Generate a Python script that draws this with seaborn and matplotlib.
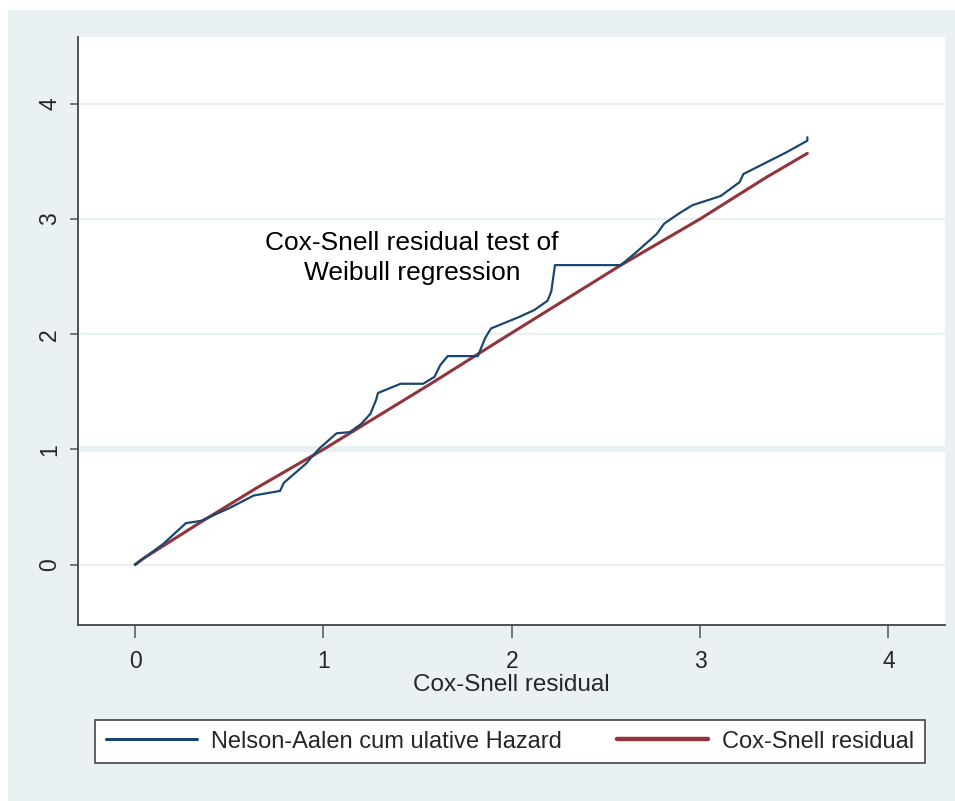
import matplotlib
matplotlib.use("Agg")
import matplotlib.pyplot as plt
from matplotlib import font_manager
from matplotlib.lines import Line2D
from matplotlib.patches import Rectangle
import pandas as pd
import seaborn as sns

# Nelson-Aalen cumulative hazard vs Cox-Snell residual
na_x = [0.00, 0.15, 0.27, 0.35, 0.50, 0.63, 0.77, 0.79, 0.91, 0.93, 0.98, 1.07, 1.14,
        1.20, 1.25, 1.28, 1.29, 1.41, 1.53, 1.59, 1.62, 1.66, 1.82, 1.86, 1.89, 2.04,
        2.12, 2.19, 2.21, 2.23, 2.58, 2.66, 2.77, 2.81, 2.89, 2.96, 3.11, 3.21, 3.23,
        3.46, 3.57, 3.57]
na_y = [0.00, 0.18, 0.36, 0.38, 0.49, 0.60, 0.64, 0.71, 0.88, 0.92, 1.01, 1.14, 1.15,
        1.22, 1.31, 1.43, 1.49, 1.57, 1.57, 1.63, 1.73, 1.81, 1.81, 1.97, 2.05, 2.15,
        2.21, 2.29, 2.37, 2.60, 2.60, 2.71, 2.87, 2.96, 3.05, 3.12, 3.20, 3.32, 3.39,
        3.58, 3.68, 3.71]

# Cox-Snell residual reference line
cs_x = [0.00, 0.05, 0.35, 0.65, 1.00, 1.58, 1.94, 2.58, 3.00, 3.35, 3.57]
cs_y = [0.00, 0.06, 0.37, 0.67, 1.00, 1.58, 1.95, 2.60, 3.00, 3.36, 3.57]

x_ticks = [0, 1, 2, 3, 4]
y_ticks = [0, 1, 2, 3, 4]
series_labels = ["Nelson-Aalen cum ulative Hazard", "Cox-Snell residual"]
x_title = "Cox-Snell residual"
note = "Cox-Snell residual test of\nWeibull regression"

blue = "#1a476f"
red = "#90353b"
bg = "#e9f1f3"

sns.set_style("white")
installed = {f.name for f in font_manager.fontManager.ttflist}
if "Liberation Sans Narrow" in installed:
    narrow, narrow_size = "Liberation Sans Narrow", 21
else:
    narrow, narrow_size = "Liberation Sans", 17
plt.rcParams["font.family"] = ["Liberation Sans", "DejaVu Sans"]

na = pd.DataFrame({"x": na_x, "y": na_y})
cs = pd.DataFrame({"x": cs_x, "y": cs_y})

fig = plt.figure(figsize=(9.55, 8.01), dpi=100)
fig.patch.set_facecolor("white")
fig.patches.append(Rectangle((8 / 955, 0), 1, 1 - 10 / 801, transform=fig.transFigure,
                             facecolor=bg, edgecolor="none", zorder=-10))

ax = fig.add_axes([78 / 955, 176 / 801, 867 / 955, 588 / 801])
ax.set_facecolor("white")

sns.lineplot(data=cs, x="x", y="y", ax=ax, color=red, lw=2.2, sort=False,
             estimator=None, zorder=3)
sns.lineplot(data=na, x="x", y="y", ax=ax, color=blue, lw=1.6, sort=False,
             estimator=None, zorder=4)

ax.set_xlim(-0.303, 4.301)
ax.set_ylim(-0.524, 4.58)
ax.set_xticks(x_ticks)
ax.set_yticks(y_ticks)
ax.set_xticklabels([str(t) for t in x_ticks])
ax.set_yticklabels([str(t) for t in y_ticks])

ax.yaxis.grid(True, color=bg, lw=1.6)
ax.xaxis.grid(False)
for t, gl in zip(y_ticks, ax.get_ygridlines()):
    if t == 1:
        gl.set_linewidth(4.5)

for side in ["top", "right"]:
    ax.spines[side].set_visible(False)
for side in ["left", "bottom"]:
    ax.spines[side].set_color("#444444")
    ax.spines[side].set_linewidth(1.3)

ax.tick_params(axis="x", length=9, width=1.1, color="#555555", pad=9,
               labelsize=16.5, bottom=True)
ax.tick_params(axis="y", length=6, width=1.1, color="#555555", pad=6,
               labelsize=16.5, labelrotation=90, left=True)
for lab in ax.get_yticklabels():
    lab.set_verticalalignment("center")

ax.set_ylabel("")
ax.set_xlabel(x_title, fontsize=narrow_size + 0.5, family=[narrow, "DejaVu Sans"])
ax.xaxis.label.set_verticalalignment("center")
ax.xaxis.set_label_coords(0.5, -0.102)

ax.text(1.47, 2.66, note, ha="center", va="center", fontsize=19,
        linespacing=1.3, color="black")

handles = [Line2D([], [], color=blue, lw=2.2), Line2D([], [], color=red, lw=3.2)]
leg = fig.legend(handles, series_labels, loc="center", ncol=2, mode="expand",
                 bbox_to_anchor=(95 / 955, 33 / 801, 830 / 955, 53 / 801),
                 prop={"family": [narrow, "DejaVu Sans"], "size": narrow_size},
                 frameon=True, fancybox=False, edgecolor="#444444",
                 facecolor="white", framealpha=1, borderpad=0.45,
                 handlelength=3.85, handletextpad=0.6, borderaxespad=0)
leg.get_frame().set_linewidth(1.2)

fig.savefig("out.png", dpi=100)
